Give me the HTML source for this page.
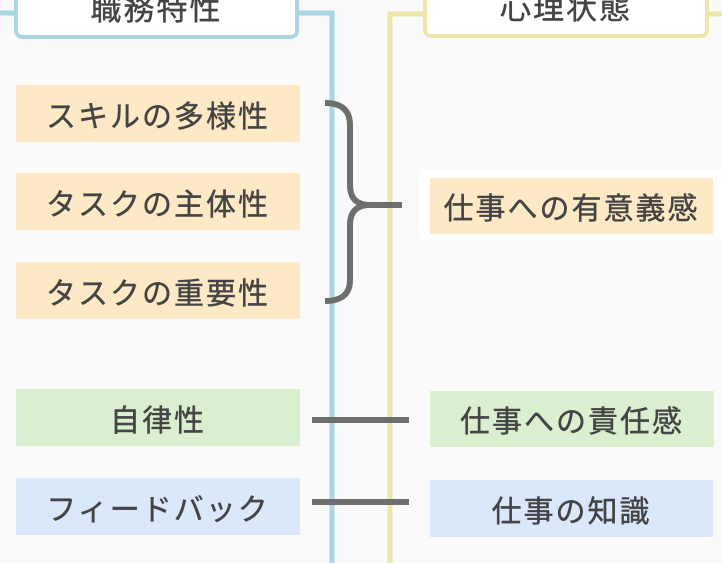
<!DOCTYPE html>
<html><head><meta charset="utf-8"><style>
body{margin:0;width:722px;height:563px;background:#fafafa;position:relative;overflow:hidden;font-family:"Liberation Sans","Noto Sans CJK JP",sans-serif;color:#444}
.n{position:absolute;display:flex;align-items:center;justify-content:center;font-size:30px;letter-spacing:2px;-webkit-text-stroke:0.4px #444}
.o{background:#fde9c6}.g{background:#d9efcf}.b{background:#dbe7fb}
.h{position:absolute;background:#fff;border-radius:8px;display:flex;align-items:flex-end;justify-content:center;font-size:31px;letter-spacing:2px;padding-bottom:6px;box-sizing:border-box;-webkit-text-stroke:0.4px #444}
</style></head><body>
<svg width="722" height="563" style="position:absolute;left:0;top:0">
<g fill="none" stroke-width="5">
<path d="M0 13 H20 M290 13 H332 V563" stroke="#acd5e3"/>
<path d="M722 14 H700 M430 14 H390 V563" stroke="#ece6a9"/>
</g>
<rect x="420" y="170" width="302" height="70" fill="#fff"/>
<g fill="none" stroke="#6e6e6e" stroke-width="6">
<path d="M325 103 Q350 103 350 125 V185 Q350 205 370 205 H402 M370 205 Q350 205 350 225 V280 Q350 301 325 301"/>
<path d="M312 420 H409 M312 502 H409"/>
</g>
</svg>
<div class="h" style="left:14px;top:-20px;width:285px;height:59px;border:4px solid #acd5e3">職務特性</div>
<div class="h" style="left:423px;top:-20px;width:286px;height:58px;border:4px solid #ece6a9">心理状態</div>
<div class="n o" style="left:16px;top:85px;width:284px;height:57px">スキルの多様性</div>
<div class="n o" style="left:16px;top:173px;width:284px;height:57px">タスクの主体性</div>
<div class="n o" style="left:16px;top:262px;width:284px;height:57px">タスクの重要性</div>
<div class="n o" style="left:430px;top:178px;width:283px;height:56px">仕事への有意義感</div>
<div class="n g" style="left:16px;top:389px;width:284px;height:57px">自律性</div>
<div class="n g" style="left:430px;top:391px;width:284px;height:56px">仕事への責任感</div>
<div class="n b" style="left:16px;top:478px;width:284px;height:57px">フィードバック</div>
<div class="n b" style="left:430px;top:480px;width:283px;height:57px">仕事の知識</div>
</body></html>
